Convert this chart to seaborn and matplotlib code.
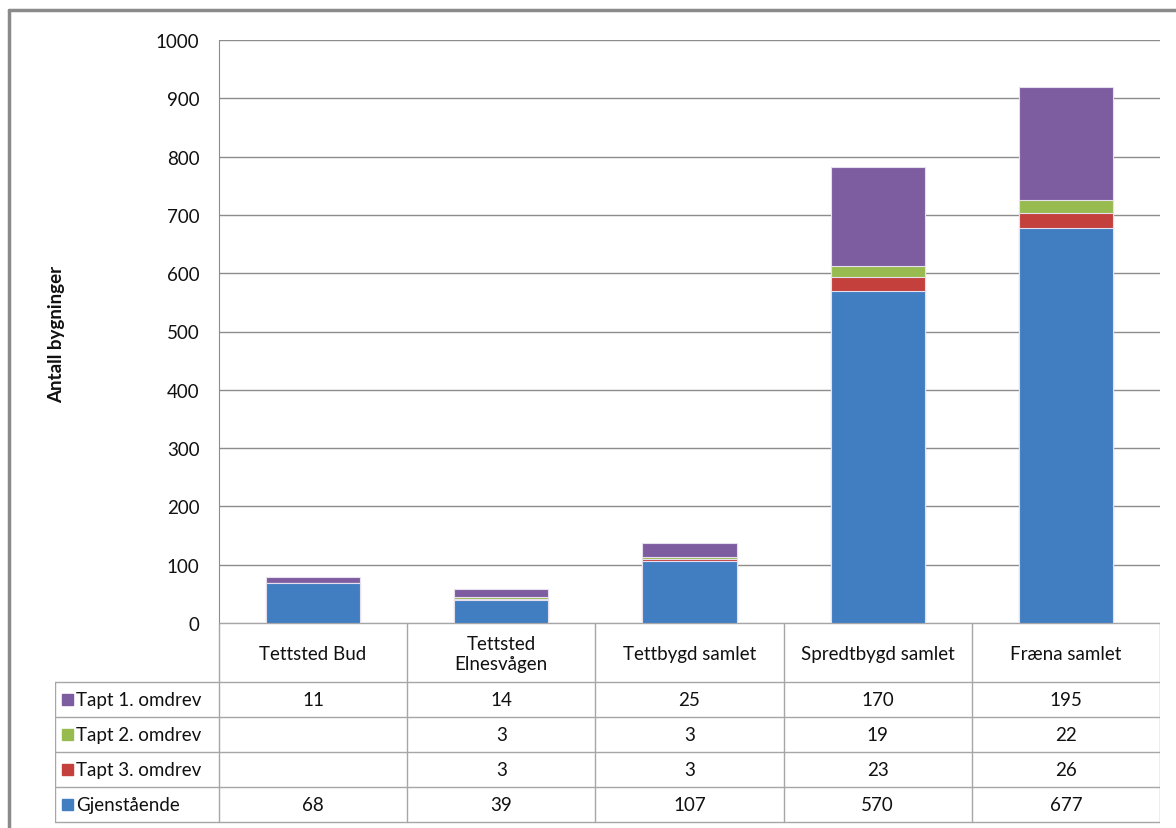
import matplotlib
import matplotlib.pyplot as plt
import numpy as np
import seaborn as sns
from matplotlib.lines import Line2D
from matplotlib.patches import Rectangle

matplotlib.use("Agg")

categories = ["Tettsted Bud", "Tettsted\nElnesvågen", "Tettbygd samlet",
              "Spredtbygd samlet", "Fræna samlet"]
gjenstaende = [68, 39, 107, 570, 677]
tapt3 = [0, 3, 3, 23, 26]
tapt2 = [0, 3, 3, 19, 22]
tapt1 = [11, 14, 25, 170, 195]

# table shows blanks where value is missing
tapt3_txt = ["", "3", "3", "23", "26"]
tapt2_txt = ["", "3", "3", "19", "22"]
tapt1_txt = ["11", "14", "25", "170", "195"]
gjen_txt = ["68", "39", "107", "570", "677"]

series_names = ["Tapt 1. omdrev", "Tapt 2. omdrev", "Tapt 3. omdrev", "Gjenstående"]
colors = ["#7E5CA0", "#98BB50", "#C3403D", "#417DC1"]

sns.set_style("white")
plt.rcParams["font.family"] = ["Lato", "DejaVu Sans"]

W, H = 1176, 829
FS = 13.5
TXT = "#111111"
fig = plt.figure(figsize=(W / 100, H / 100), dpi=100)


def fx(px):
    return px / W


def fy(py):
    return 1 - py / H


# outer frame (only left and top visible in the crop)
fig.add_artist(Line2D([fx(9), fx(9)], [fy(11), 0], color="#8a8a8a", lw=2.5))
fig.add_artist(Line2D([fx(9), 1], [fy(11), fy(11)], color="#8a8a8a", lw=2.5))

left, right, top, bottom = 219, 1160, 41, 624
ax = fig.add_axes([fx(left), fy(bottom), fx(right - left), (bottom - top) / H])

# stacked bars drawn as cumulative totals, largest first
cum = np.cumsum(np.array([gjenstaende, tapt3, tapt2, tapt1]), axis=0)
layers = [(cum[3], colors[0]), (cum[2], colors[1]), (cum[1], colors[2]), (cum[0], colors[3])]
for vals, col in layers:
    sns.barplot(x=list(range(len(categories))), y=vals, color=col, saturation=1,
                width=0.5, errorbar=None, edgecolor="#e6e0ee", linewidth=0.8,
                ax=ax, zorder=3)

ax.set_xlim(-0.5, len(categories) - 0.5)
ax.set_ylim(0, 1000)
ax.set_yticks(range(0, 1001, 100))
ax.set_xticks([])
ax.set_xlabel("")
ax.set_ylabel("")
ax.yaxis.grid(True, color="#8c8c8c", lw=1)
ax.set_axisbelow(True)
for s in ["top", "right", "bottom"]:
    ax.spines[s].set_visible(False)
ax.spines["left"].set_color("#8c8c8c")
ax.tick_params(axis="y", length=0, pad=14, labelsize=FS, colors=TXT)

fig.text(fx(57), fy(334), "Antall bygninger", rotation=90, ha="center",
         va="center", fontsize=13.5, fontweight="bold", color=TXT)

# data table below the plot
tleft = 55
tax = fig.add_axes([fx(tleft), 0, fx(right - tleft), fy(bottom)])
tax.set_xlim(tleft, right)
tax.set_ylim(H, bottom)
tax.axis("off")

lc = "#a6a6a6"
ncol = len(categories)
colw = (right - left) / ncol
header_bot = 683
row_h = 35
rows = [tapt1_txt, tapt2_txt, tapt3_txt, gjen_txt]
nrow = len(rows)
table_bot = header_bot + nrow * row_h

col_edges = [left + i * colw for i in range(ncol + 1)]
tax.plot([left, right], [bottom, bottom], color=lc, lw=1)
for xe in col_edges:
    tax.plot([xe, xe], [bottom, table_bot], color=lc, lw=1)
tax.plot([tleft, tleft], [header_bot, table_bot], color=lc, lw=1)
for r in range(nrow + 1):
    yl = header_bot + r * row_h
    tax.plot([tleft, right], [yl, yl], color=lc, lw=1)

for i, name in enumerate(categories):
    tax.text(left + (i + 0.5) * colw, (bottom + header_bot) / 2 + 1, name,
             ha="center", va="center", fontsize=FS, color=TXT,
             linespacing=1.25)

for r, (vals, name, col) in enumerate(zip(rows, series_names, colors)):
    yc = header_bot + (r + 0.5) * row_h
    tax.add_patch(Rectangle((62, yc - 5.5), 11, 11, color=col))
    tax.text(76, yc, name, ha="left", va="center", fontsize=FS, color=TXT)
    for i, v in enumerate(vals):
        tax.text(left + (i + 0.5) * colw, yc, v, ha="center", va="center",
                 fontsize=FS, color=TXT)

fig.savefig("out.png", dpi=100)
